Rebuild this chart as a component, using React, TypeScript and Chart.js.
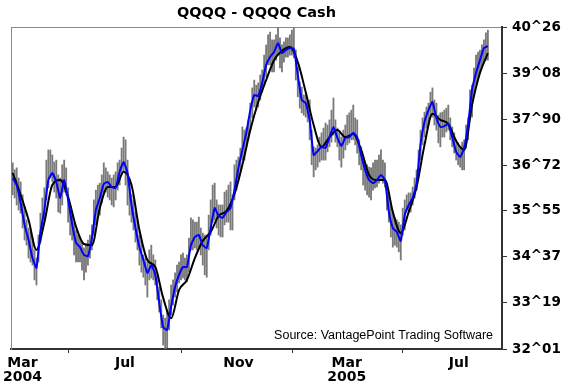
import React, { useEffect, useRef } from 'react';
import { Chart, registerables } from 'chart.js';

Chart.register(...registerables);

// trading-day index (0 = 1 Mar 2004), sampled every 3 sessions
const tradingDays = [
  0, 3, 6, 9, 12, 15, 18, 21, 24, 27, 30, 33, 36, 39, 42, 45, 48, 51, 54, 57,
  60, 63, 66, 69, 72, 75, 78, 81, 84, 87, 90, 93, 96, 99, 102, 105, 108, 111, 114, 117,
  120, 123, 126, 129, 132, 135, 138, 141, 144, 147, 150, 153, 156, 159, 162, 165, 168, 171, 174, 177,
  180, 183, 186, 189, 192, 195, 198, 201, 204, 207, 210, 213, 216, 219, 222, 225, 228, 231, 234, 237,
  240, 243, 246, 249, 252, 255, 258, 261, 264, 267, 270, 273, 276, 279, 282, 285, 288, 291, 294, 297,
  300, 303, 306, 309, 312, 315, 318, 321, 324, 327, 330, 333, 336, 339, 342, 345, 348, 351, 354, 357,
  360,
];

// blue line (fast / predicted average)
const blueLine = [
  36.39, 36.21, 35.75, 35.19, 34.80, 34.34, 34.09, 35.01, 35.57, 36.34,
  36.52, 36.29, 35.88, 36.34, 35.83, 35.21, 34.73, 34.62, 34.42, 34.39,
  34.85, 35.57, 35.88, 36.24, 36.29, 36.16, 36.14, 36.55, 36.80, 36.52,
  35.70, 35.11, 34.62, 34.29, 33.96, 34.16, 33.91, 33.19, 32.57, 32.50,
  33.09, 33.60, 33.91, 34.11, 34.11, 34.67, 34.88, 34.93, 34.67, 34.60,
  35.11, 35.62, 35.42, 35.37, 35.52, 35.62, 36.08, 36.65, 37.11, 37.55,
  38.13, 38.52, 38.49, 38.83, 39.29, 39.49, 39.62, 39.85, 39.59, 39.67,
  39.72, 39.70, 39.03, 38.39, 38.31, 37.88, 36.98, 37.08, 37.19, 37.16,
  37.44, 37.70, 37.42, 37.21, 37.42, 37.44, 37.55, 37.44, 36.98, 36.60,
  36.34, 36.26, 36.34, 36.47, 36.34, 35.52, 35.11, 35.01, 34.78, 35.44,
  35.70, 35.88, 36.26, 37.26, 37.83, 38.13, 38.34, 37.93, 37.70, 37.72,
  37.78, 37.44, 37.06, 36.93, 37.16, 37.75, 38.65, 39.08, 39.41, 39.72,
  39.77,
];

// daily bar highs / lows at the sessions above
const highs = [
  36.78, 36.65, 36.29, 35.65, 35.11, 34.85, 34.34, 35.49, 36.14, 37.11,
  36.98, 36.85, 36.39, 36.85, 36.14, 35.52, 35.06, 34.85, 34.60, 34.80,
  35.19, 36.08, 36.26, 36.78, 36.55, 36.39, 36.55, 36.85, 37.44, 36.85,
  35.96, 35.52, 34.93, 34.42, 34.24, 34.67, 34.29, 33.60, 32.88, 33.01,
  33.65, 33.96, 34.24, 34.47, 34.42, 35.37, 35.26, 35.39, 34.98, 34.93,
  35.83, 36.26, 35.70, 35.70, 36.08, 36.29, 36.73, 36.93, 37.70, 37.67,
  38.31, 38.90, 38.83, 39.16, 39.80, 40.13, 39.93, 40.26, 39.80, 39.98,
  40.06, 40.26, 39.21, 38.72, 38.52, 38.39, 37.19, 37.24, 37.55, 37.80,
  37.88, 38.44, 37.67, 37.44, 37.75, 38.06, 38.26, 37.88, 37.19, 36.78,
  36.67, 36.78, 36.85, 37.11, 36.78, 35.96, 35.52, 35.32, 35.19, 35.83,
  36.01, 36.16, 36.60, 37.62, 38.08, 38.31, 38.70, 38.31, 38.06, 38.13,
  38.26, 37.70, 37.37, 37.19, 37.37, 37.93, 38.77, 39.54, 39.67, 39.93,
  40.18,
];

const lows = [
  35.96, 35.70, 35.49, 34.80, 34.34, 34.16, 33.65, 34.75, 35.37, 36.14,
  36.29, 35.88, 35.49, 36.03, 35.26, 34.80, 34.24, 34.24, 33.78, 34.16,
  34.55, 35.19, 35.44, 36.03, 35.90, 35.70, 35.83, 36.21, 36.55, 35.70,
  35.26, 34.75, 34.16, 33.85, 33.34, 33.83, 33.65, 32.96, 32.11, 32.04,
  32.88, 33.34, 33.70, 33.83, 33.73, 34.55, 34.60, 34.62, 34.16, 33.85,
  34.93, 35.32, 34.93, 34.88, 35.26, 35.06, 35.83, 36.34, 36.85, 37.19,
  37.62, 38.21, 38.21, 38.59, 38.98, 39.29, 39.11, 39.54, 39.11, 39.49,
  39.54, 39.47, 38.47, 38.06, 37.95, 37.37, 36.42, 36.67, 36.85, 36.85,
  37.19, 37.49, 37.19, 36.67, 37.11, 37.29, 37.37, 37.03, 36.60, 36.08,
  35.90, 36.08, 36.16, 36.34, 36.16, 35.26, 34.62, 34.62, 34.29, 35.06,
  35.49, 35.70, 36.08, 36.85, 37.44, 37.75, 37.95, 37.62, 37.19, 37.44,
  37.62, 37.19, 36.85, 36.67, 36.60, 37.37, 37.95, 38.77, 39.08, 39.34,
  39.41,
];

// the sessions in between
const midDays = [
  1.5, 4.5, 7.5, 10.5, 13.5, 16.5, 19.5, 22.5, 25.5, 28.5, 31.5, 34.5, 37.5, 40.5, 43.5, 46.5, 49.5, 52.5, 55.5, 58.5,
  61.5, 64.5, 67.5, 70.5, 73.5, 76.5, 79.5, 82.5, 85.5, 88.5, 91.5, 94.5, 97.5, 100.5, 103.5, 106.5, 109.5, 112.5, 115.5, 118.5,
  121.5, 124.5, 127.5, 130.5, 133.5, 136.5, 139.5, 142.5, 145.5, 148.5, 151.5, 154.5, 157.5, 160.5, 163.5, 166.5, 169.5, 172.5, 175.5, 178.5,
  181.5, 184.5, 187.5, 190.5, 193.5, 196.5, 199.5, 202.5, 205.5, 208.5, 211.5, 214.5, 217.5, 220.5, 223.5, 226.5, 229.5, 232.5, 235.5, 238.5,
  241.5, 244.5, 247.5, 250.5, 253.5, 256.5, 259.5, 262.5, 265.5, 268.5, 271.5, 274.5, 277.5, 280.5, 283.5, 286.5, 289.5, 292.5, 295.5, 298.5,
  301.5, 304.5, 307.5, 310.5, 313.5, 316.5, 319.5, 322.5, 325.5, 328.5, 331.5, 334.5, 337.5, 340.5, 343.5, 346.5, 349.5, 352.5, 355.5, 358.5,
];

const midHighs = [
  36.60, 36.39, 35.96, 35.32, 35.01, 34.55, 34.93, 35.88, 36.85, 37.11,
  36.80, 36.47, 36.73, 36.65, 35.70, 35.26, 34.93, 34.75, 34.67, 34.93,
  35.83, 36.21, 36.47, 36.65, 36.47, 36.47, 36.78, 37.16, 37.37, 36.34,
  35.83, 35.32, 34.80, 34.34, 34.55, 34.42, 33.91, 33.27, 32.80, 33.27,
  33.78, 34.16, 34.42, 34.34, 34.85, 35.32, 35.26, 35.11, 34.93, 35.44,
  36.21, 35.83, 35.70, 36.03, 36.21, 35.96, 36.85, 37.16, 37.62, 37.88,
  38.70, 38.77, 39.03, 39.54, 40.06, 39.93, 40.06, 39.98, 39.88, 39.98,
  40.18, 39.67, 38.85, 38.52, 38.39, 37.62, 37.16, 37.44, 37.67, 37.75,
  38.13, 37.88, 37.57, 37.62, 38.00, 38.13, 37.93, 37.37, 36.85, 36.73,
  36.65, 36.85, 36.98, 36.85, 36.21, 35.70, 35.37, 35.26, 35.62, 35.96,
  36.01, 36.39, 37.11, 37.93, 38.21, 38.59, 38.39, 38.00, 38.08, 38.18,
  37.93, 37.55, 37.29, 37.31, 37.75, 38.65, 39.21, 39.62, 39.80, 40.11,
];

const midLows = [
  35.88, 35.57, 35.11, 34.67, 34.24, 33.78, 34.24, 35.06, 35.83, 36.39,
  36.03, 35.52, 35.70, 35.96, 34.93, 34.42, 34.24, 34.03, 33.98, 34.34,
  34.93, 35.44, 35.75, 36.03, 35.83, 35.65, 36.08, 36.47, 36.21, 35.44,
  35.06, 34.55, 33.98, 33.65, 33.78, 33.78, 33.27, 32.55, 32.01, 32.50,
  33.14, 33.47, 33.78, 33.78, 33.98, 34.55, 34.55, 34.42, 33.91, 34.55,
  35.26, 35.11, 34.88, 35.19, 35.26, 35.06, 36.08, 36.55, 36.85, 37.37,
  37.93, 38.13, 38.39, 38.77, 39.29, 39.11, 39.41, 39.21, 39.36, 39.49,
  39.54, 38.90, 38.18, 38.00, 37.83, 36.73, 36.60, 36.80, 36.85, 37.06,
  37.31, 37.31, 36.85, 36.90, 37.24, 37.37, 37.24, 36.73, 36.21, 35.96,
  35.83, 36.14, 36.26, 36.26, 35.57, 34.88, 34.67, 34.50, 34.93, 35.57,
  35.52, 35.88, 36.47, 37.24, 37.67, 37.95, 37.75, 37.29, 37.44, 37.57,
  37.37, 37.03, 36.73, 36.60, 37.16, 37.88, 38.52, 38.95, 39.21, 39.41,
];

// black line (slow moving average), every 6 sessions
const maDays = [
  0, 6, 12, 18, 24, 30, 36, 42, 48, 54, 60, 66, 72, 78, 84, 90, 96, 102, 108, 114,
  120, 126, 132, 138, 144, 150, 156, 162, 168, 174, 180, 186, 192, 198, 204, 210, 216, 222, 228, 234,
  240, 246, 252, 258, 264, 270, 276, 282, 288, 294, 300, 306, 312, 318, 324, 330, 336, 342, 348, 354,
  360,
];
const blackLine = [
  36.52, 35.96, 35.32, 34.55, 35.26, 36.21, 36.34, 35.90, 35.14, 34.70,
  34.67, 35.62, 36.16, 36.16, 36.55, 36.21, 35.06, 34.29, 34.11, 33.32,
  32.80, 33.52, 33.78, 34.34, 34.78, 35.01, 35.42, 35.55, 35.98, 36.73,
  37.62, 38.34, 38.90, 39.41, 39.65, 39.75, 39.36, 38.59, 37.75, 37.19,
  37.44, 37.62, 37.44, 37.52, 37.11, 36.47, 36.34, 36.34, 35.52, 34.98,
  35.52, 36.16, 37.24, 38.04, 37.88, 37.78, 37.34, 37.11, 38.26, 39.08,
  39.59,
];

const xTickDays = [0, 85, 171, 253, 338];
const xTickLabels: (string | string[])[] = [['    Mar', '    2004'], 'Jul', 'Nov', ['Mar', '2005'], 'Jul'];
const yTickValues = [32.01, 33.19, 34.37, 35.55, 36.72, 37.9, 39.08, 40.26];
const yTickLabels = ['32^01', '33^19', '34^37', '35^55', '36^72', '37^90', '39^08', '40^26'];

const titleText = 'QQQQ - QQQQ Cash';
const sourceText = 'Source: VantagePoint Trading Software';

const textPlugin = {
  id: 'texts',
  afterDraw(chart: any) {
    const { ctx, chartArea } = chart;
    ctx.save();
    ctx.fillStyle = '#000';
    ctx.font = 'bold 14.5px "DejaVu Sans"';
    ctx.textAlign = 'center';
    ctx.textBaseline = 'alphabetic';
    ctx.fillText(titleText, (chartArea.left + chartArea.right) / 2, 16.5);
    ctx.font = '12.5px "Liberation Sans"';
    ctx.textAlign = 'right';
    ctx.fillText(sourceText, chartArea.right - 9, chartArea.bottom - 10);
    ctx.restore();
  },
};

export default function App() {
  const ref = useRef<HTMLCanvasElement>(null);
  useEffect(() => {
    const canvas = ref.current;
    if (!canvas) return;
    const bars = tradingDays
      .map((d, i) => ({ x: d, y: [lows[i], highs[i]] }))
      .concat(midDays.map((d, i) => ({ x: d, y: [midLows[i], midHighs[i]] })))
      .sort((a, b) => a.x - b.x);
    const blue = tradingDays.map((d, i) => ({ x: d, y: blueLine[i] }));
    const black = maDays.map((d, i) => ({ x: d, y: blackLine[i] }));
    const chart = new Chart(canvas, {
      type: 'bar',
      data: {
        datasets: [
          {
            type: 'line',
            data: blue,
            borderColor: '#0000ff',
            borderWidth: 2,
            pointRadius: 0,
            tension: 0.15,
            order: 0,
          } as any,
          {
            type: 'line',
            data: black,
            borderColor: '#000000',
            borderWidth: 2,
            pointRadius: 0,
            cubicInterpolationMode: 'monotone',
            order: 1,
          } as any,
          {
            type: 'bar',
            data: bars,
            backgroundColor: '#7a7a7a',
            barThickness: 1.2,
            order: 2,
          } as any,
        ],
      },
      options: {
        animation: false,
        responsive: false,
        maintainAspectRatio: false,
        layout: { autoPadding: false, padding: { left: 11, top: 27, right: 0, bottom: 0 } },
        plugins: { legend: { display: false }, tooltip: { enabled: false }, title: { display: false } },
        scales: {
          x: {
            type: 'linear',
            position: 'bottom',
            min: -1.3,
            max: 370.7,
            offset: false,
            afterBuildTicks: (s: any) => {
              s.ticks = xTickDays.map((v) => ({ value: v }));
            },
            afterFit: (s: any) => {
              s.height = 39;
              s.paddingLeft = 0;
              s.paddingRight = 0;
            },
            grid: { display: true, drawOnChartArea: false, drawTicks: true, tickLength: 4, color: '#333', lineWidth: 1 },
            border: { display: true, color: '#333', width: 2 },
            ticks: {
              autoSkip: false,
              maxRotation: 0,
              minRotation: 0,
              padding: 3,
              color: '#000',
              font: { family: 'DejaVu Sans', weight: 'bold', size: 14, lineHeight: 1 },
              callback: (v: any) => xTickLabels[xTickDays.indexOf(Number(v))] as any,
            },
          },
          x2: {
            type: 'linear',
            position: 'top',
            min: -1.3,
            max: 370.7,
            afterFit: (s: any) => {
              s.height = 0;
            },
            grid: { display: false, drawTicks: false },
            ticks: { display: false },
            border: { display: true, color: '#8a8a8a', width: 1 },
          },
          y: {
            type: 'linear',
            position: 'right',
            min: 32.01,
            max: 40.26,
            afterBuildTicks: (s: any) => {
              s.ticks = yTickValues.map((v) => ({ value: v }));
            },
            afterFit: (s: any) => {
              s.width = 73;
              s.paddingTop = 0;
              s.paddingBottom = 0;
            },
            grid: { display: true, drawOnChartArea: false, drawTicks: true, tickLength: 5, color: '#333', lineWidth: 1 },
            border: { display: true, color: '#333', width: 2 },
            ticks: {
              autoSkip: false,
              padding: 5,
              color: '#000',
              font: { family: 'DejaVu Sans', weight: 'bold', size: 13.5 },
              callback: (v: any) => yTickLabels[yTickValues.indexOf(Number(v))],
            },
          },
          y2: {
            type: 'linear',
            position: 'left',
            min: 32.01,
            max: 40.26,
            afterFit: (s: any) => {
              s.width = 0;
            },
            grid: { display: false, drawTicks: false },
            ticks: { display: false },
            border: { display: true, color: '#8a8a8a', width: 1 },
          },
        },
      } as any,
      plugins: [textPlugin],
    });
    return () => chart.destroy();
  }, []);
  return (
    <div style={{ position: 'fixed', left: 0, top: 0, width: 575, height: 388, background: '#fff' }}>
      <canvas ref={ref} width={575} height={388} style={{ display: 'block', width: 575, height: 388 }} />
    </div>
  );
}
